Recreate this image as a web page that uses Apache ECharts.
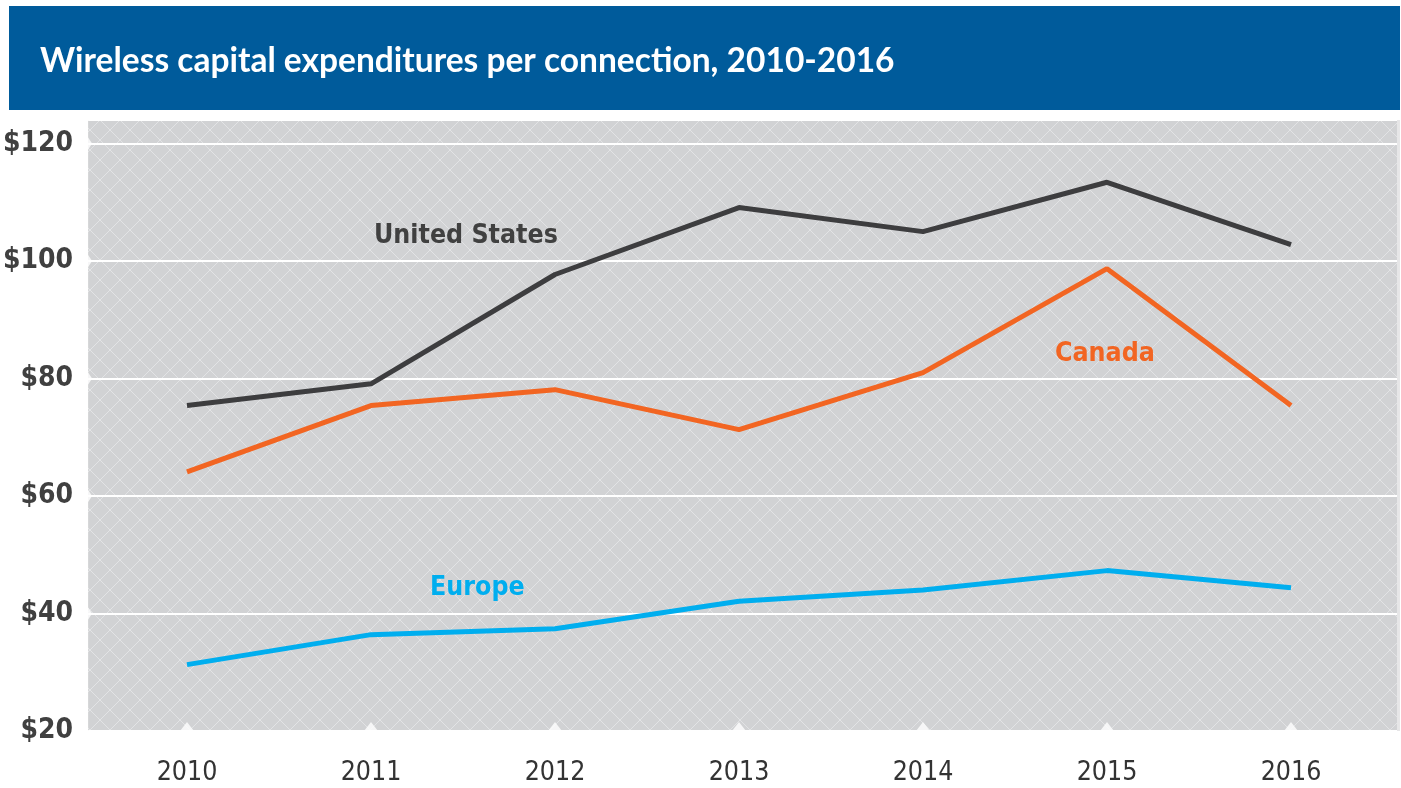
<!DOCTYPE html>
<html>
<head>
<meta charset="utf-8">
<script src="https://cdn.jsdelivr.net/npm/echarts@6/dist/echarts.min.js"></script>
<style>
  html, body { margin: 0; padding: 0; background: #fff; }
  #main { width: 1401px; height: 788px; }
</style>
</head>
<body>
<div id="main"></div>
<script>
// data
var years = ['2010', '2011', '2012', '2013', '2014', '2015', '2016'];
var unitedStates = [75.4, 79.1, 97.7, 109.1, 105.0, 113.4, 102.8];
var canada = [64.1, 75.4, 78.1, 71.3, 81.0, 98.7, 75.4];
var europe = [31.3, 36.4, 37.4, 42.1, 44.0, 47.3, 44.4];
var yTicks = [40, 60, 80, 100, 120];

var condensed = '"DejaVu Sans Condensed", "DejaVu Sans", sans-serif';

// crosshatch tile for plot background
var tile = document.createElement('canvas');
tile.width = 20; tile.height = 20;
var ctx = tile.getContext('2d');
ctx.fillStyle = '#d1d2d4';
ctx.fillRect(0, 0, 20, 20);
ctx.strokeStyle = '#e2e3e5';
ctx.lineWidth = 1;
ctx.beginPath();
ctx.moveTo(0, 0); ctx.lineTo(20, 20);
ctx.moveTo(20, 0); ctx.lineTo(0, 20);
ctx.stroke();

var chart = echarts.init(document.getElementById('main'));
chart.setOption({
  animation: false,
  title: {
    text: 'Wireless capital expenditures per connection, 2010-2016',
    left: 40,
    top: 44,
    padding: 0,
    textStyle: { color: '#fff', fontFamily: 'Lato', fontWeight: 'bold', fontSize: 33.5 }
  },
  graphic: [{
    type: 'rect',
    shape: { x: 9, y: 6, width: 1391, height: 104 },
    style: { fill: '#005b9b' },
    z: -1
  }, {
    type: 'rect',
    shape: { x: 1397, y: 120, width: 3, height: 611 },
    style: { fill: '#e6e6e7' },
    z: -1
  }, {
    type: 'text', left: 374, top: 223, z: 10,
    style: { text: 'United States', fill: '#404040', font: 'bold 26.5px ' + condensed }
  }, {
    type: 'text', left: 1055, top: 341, z: 10,
    style: { text: 'Canada', fill: '#f26522', font: 'bold 26.5px ' + condensed }
  }, {
    type: 'text', left: 430, top: 575, z: 10,
    style: { text: 'Europe', fill: '#00aeef', font: 'bold 26.5px ' + condensed }
  }],
  grid: [{
    // background grid
    left: 87, right: 4, top: 120, bottom: 57,
    show: true,
    borderWidth: 0,
    backgroundColor: { image: tile, repeat: 'repeat' }
  }, {
    left: 95, right: 18, top: 120, bottom: 57
  }],
  xAxis: [{
    gridIndex: 0, type: 'value', min: 0, max: 1, show: false
  }, {
    gridIndex: 1, type: 'category', data: years, boundaryGap: true,
    axisLine: { show: false },
    axisTick: { show: false },
    axisLabel: { color: '#333', fontFamily: condensed, fontSize: 26.5, margin: 29 }
  }],
  yAxis: [{
    gridIndex: 0, type: 'value', min: 20, max: 124, interval: 20,
    axisLine: { show: false },
    axisTick: { show: false },
    splitLine: { lineStyle: { color: '#fff', width: 2 } },
    axisLabel: {
      showMaxLabel: false,
      margin: 15,
      color: '#404040', fontFamily: condensed, fontWeight: 'bold', fontSize: 28,
      formatter: function (v) { return v % 20 === 0 ? '$' + v : ''; }
    }
  }, {
    gridIndex: 1, type: 'value', min: 20, max: 124, show: false
  }],
  series: [{
    type: 'scatter', xAxisIndex: 0, yAxisIndex: 0, clip: false, silent: true,
    symbol: 'path://M0,0 L10,5 L0,10 Z', symbolKeepAspect: false, symbolSize: [8, 24],
    itemStyle: { color: '#fff' },
    data: yTicks.map(function (v) { return [0, v]; })
  }, {
    type: 'scatter', xAxisIndex: 1, yAxisIndex: 1, clip: false, silent: true,
    symbol: 'triangle', symbolSize: [28, 18],
    itemStyle: { color: '#fff' },
    data: years.map(function (y) { return [y, 20]; })
  }, {
    name: 'United States', type: 'line', xAxisIndex: 1, yAxisIndex: 1,
    data: unitedStates, symbol: 'none',
    lineStyle: { color: '#3d3d3f', width: 5 }
  }, {
    name: 'Canada', type: 'line', xAxisIndex: 1, yAxisIndex: 1,
    data: canada, symbol: 'none',
    lineStyle: { color: '#f26522', width: 5 }
  }, {
    name: 'Europe', type: 'line', xAxisIndex: 1, yAxisIndex: 1,
    data: europe, symbol: 'none',
    lineStyle: { color: '#00aeef', width: 5 }
  }]
});
</script>
</body>
</html>
